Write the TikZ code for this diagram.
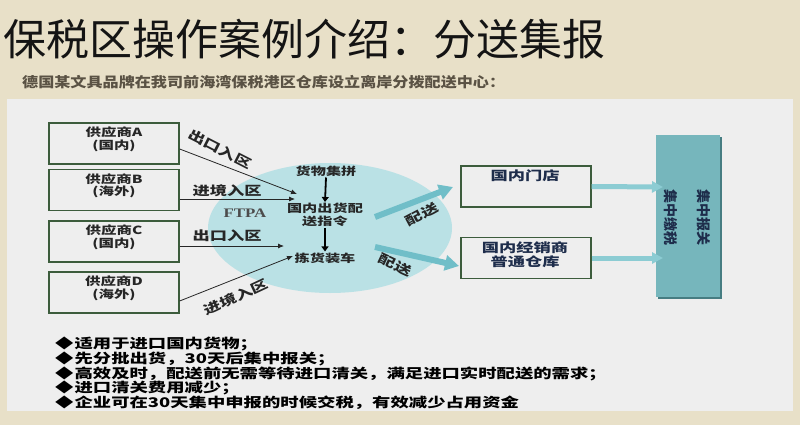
\documentclass[tikz,border=0pt]{standalone}
\usepackage{fontspec}
\setmainfont{Liberation Serif}
\newfontfamily\cjk{Noto Sans CJK SC}
\newfontfamily\cjkw{Noto Sans CJK SC}[FakeStretch=1.38]
\newfontfamily\cjkm{Noto Sans CJK SC}[FakeStretch=1.15]
\newfontfamily\serifw{Liberation Serif}[FakeStretch=1.3]
\usetikzlibrary{arrows.meta,shapes.geometric,shadows}
\definecolor{bgbeige}{RGB}{232,224,200}
\definecolor{panelgray}{RGB}{238,238,238}
\definecolor{boxgreen}{RGB}{60,92,60}
\definecolor{ellcol}{RGB}{186,225,229}
\definecolor{bigcyan}{RGB}{112,190,200}
\definecolor{rcyan}{RGB}{140,204,211}
\definecolor{tallcol}{RGB}{118,182,188}
\definecolor{tallshadow}{RGB}{70,125,130}
\definecolor{navy}{RGB}{30,45,75}
\definecolor{subcol}{RGB}{90,82,68}
\tikzset{
  supbox/.style={draw=boxgreen, line width=1.3pt, fill=panelgray, minimum width=130pt, minimum height=41pt, inner sep=0pt},
  suptext/.style={font=\cjkw\bfseries\fontsize{11.2}{12.5}\selectfont, align=center, text=black!85},
  ftext/.style={font=\cjkw\bfseries\fontsize{11}{13}\selectfont, align=center, text=black!85},
  lbl/.style={font=\cjkw\bfseries\fontsize{12.5}{14}\selectfont, text=black!85, inner sep=0pt},
  conn/.style={draw=black!85, line width=0.8pt, -{Latex[length=6pt,width=5pt]}},
  downarr/.style={draw=black, line width=1.8pt, -{Triangle[length=5pt,width=7pt]}},
  bigarrow/.style={draw=bigcyan, line width=6pt, -{Triangle[length=14pt,width=15pt]}},
  rarrow/.style={draw=rcyan, line width=5pt, -{Triangle[length=11pt,width=11pt]}},
  rtext/.style={font=\cjkw\bfseries\fontsize{12.5}{14}\selectfont, align=center, text=navy},
}
\begin{document}
\begin{tikzpicture}[x=1pt,y=-1pt]
\useasboundingbox (0,0) rectangle (800,425);
\fill[bgbeige] (0,0) rectangle (800,425);
\fill[panelgray] (7,99) rectangle (793,411);

% title and subtitle
\node[anchor=west, inner sep=0pt, font=\cjk\fontsize{43}{46}\selectfont, text=black!92] (title) at (3,39) {保税区操作案例介绍：分送集报};
\node[anchor=west, inner sep=0pt, font=\cjkm\bfseries\fontsize{14}{16}\selectfont, text=subcol] (sub) at (22,82) {德国某文具品牌在我司前海湾保税港区仓库设立离岸分拨配送中心：};

% ellipse
\node[ellipse, fill=ellcol, minimum width=244pt, minimum height=130pt, inner sep=0pt] (ftz) at (330,228) {};
\node[font=\serifw\bfseries\fontsize{13}{14}\selectfont, text=black!70, inner sep=0pt] (ftpa) at (245,213) {FTPA};
\node[ftext, inner sep=1pt] (g1) at (326,171) {货物集拼};
\node[ftext, inner sep=1pt] (g2) at (325,215) {国内出货配\\送指令};
\node[ftext, inner sep=1pt] (g3) at (325,258) {拣货装车};
\draw[downarr] (g1.south) -- (g2.north);
\draw[downarr] (g2.south) -- (g3.north);

% supplier boxes
\node[supbox] (A) at (114,143.5) {};
\node[supbox] (B) at (114,190) {};
\node[supbox] (C) at (114,241.5) {};
\node[supbox] (D) at (114,292.5) {};
\node[suptext] (At) at (114,139.5) {供应商A\\(国内)};
\node[suptext] (Bt) at (114,186) {供应商B\\(海外)};
\node[suptext] (Ct) at (114,237.5) {供应商C\\(国内)};
\node[suptext] (Dt) at (114,288.5) {供应商D\\(海外)};

\coordinate (tA) at (297,194);
\coordinate (tB) at (295,199);
\coordinate (tC) at (284,246);
\coordinate (tD) at (293,256);
\draw[conn] ([yshift=-5.5pt]A.east) -- (tA);
\draw[conn] ([yshift=-9pt]B.east) -- (tB);
\draw[conn] ([yshift=-4.5pt]C.east) -- (tC);
\draw[conn] ([yshift=-8.5pt]D.east) -- (tD);
\node[lbl, rotate=-27] (lA) at (220,149) {出口入区};
\node[lbl] (lB) at (227,191) {进境入区};
\node[lbl] (lC) at (227,236) {出口入区};
\node[lbl, rotate=25] (lD) at (236,297) {进境入区};

% big arrows
\coordinate (s1) at (375,217);
\coordinate (e1) at (453,187);
\coordinate (s2) at (375,247);
\coordinate (e2) at (459,266);
\draw[bigarrow] (s1) -- (e1);
\draw[bigarrow] (s2) -- (e2);
\node[lbl, rotate=28] (p1) at (422,214) {配送};
\node[lbl, rotate=-25] (p2) at (395,265) {配送};

% right boxes
\node[supbox] (R1) at (526,186.5) {};
\node[supbox] (R2) at (526,258) {};
\node[rtext] (R1t) at (525,176) {国内门店};
\node[rtext] (R2t) at (525,255) {国内经销商\\普通仓库};

% tall box
\node[fill=tallcol, minimum width=64pt, minimum height=162pt, inner sep=0pt,
      drop shadow={shadow xshift=2pt, shadow yshift=-2pt, fill=tallshadow, opacity=1}] (T) at (688,216) {};
\node[rotate=-90, align=center, font=\cjk\bfseries\fontsize{14}{33}\selectfont, text=navy] (Tt) at (687,217) {集中报关\\集中缴税};
\coordinate (q1) at (663,187);
\coordinate (q2) at (663,258);
\draw[rarrow] (R1.east) -- (q1);
\draw[rarrow] (R2.east) -- (q2);

% bullets
\node[anchor=north west, align=left, inner sep=0pt, font=\cjkw\bfseries\fontsize{13.3}{14.9}\selectfont, text=black] (bul) at (55,336.5) {%
◆\hspace{1pt}适用于进口国内货物；\\
◆\hspace{1pt}先分批出货，30天后集中报关；\\
◆\hspace{1pt}高效及时，配送前无需等待进口清关，满足进口实时配送的需求；\\
◆\hspace{1pt}进口清关费用减少；\\
◆\hspace{1pt}企业可在30天集中申报的时候交税，有效减少占用资金};
\end{tikzpicture}
\end{document}
